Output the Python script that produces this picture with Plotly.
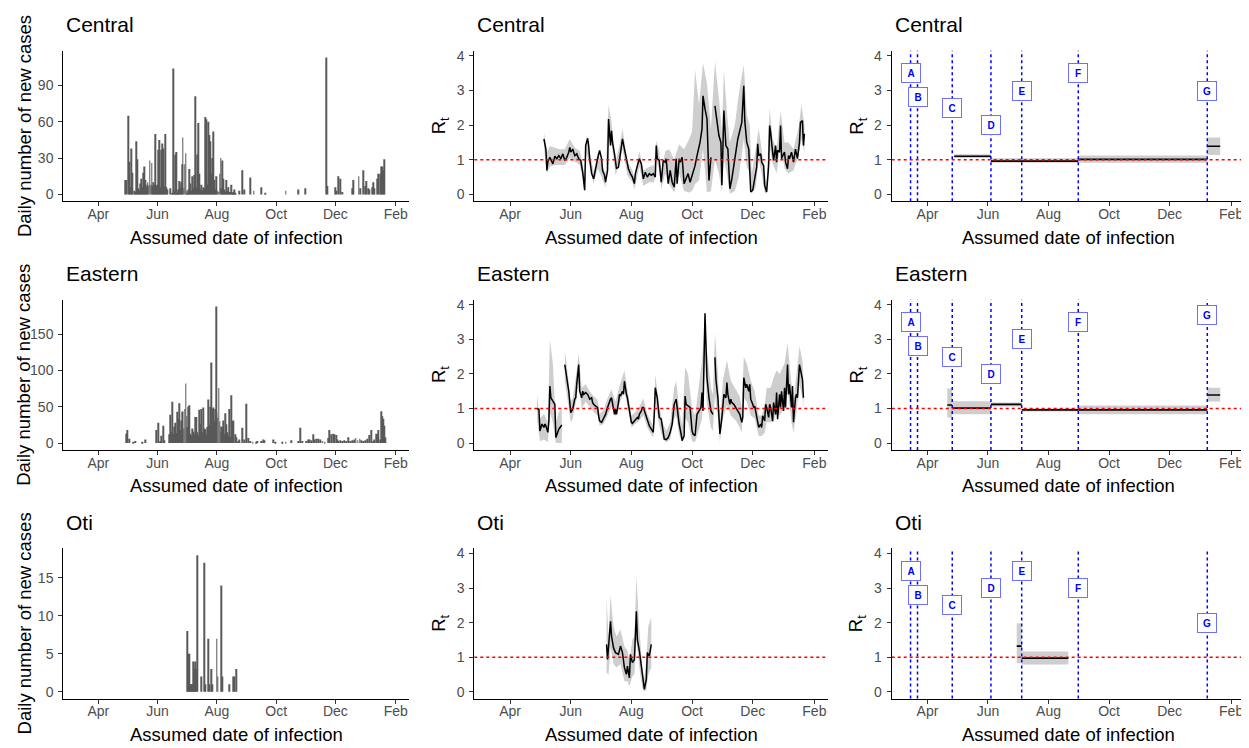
import pandas as pd
import plotly.graph_objects as go

FONT = "Liberation Sans, Arial, sans-serif"
ORIGIN = "2020-04-01"
X_RANGE = ["2020-02-25", "2021-02-15"]
TICK_DATES = ["2020-04-01", "2020-06-01", "2020-08-01", "2020-10-01", "2020-12-01", "2021-02-01"]
TICK_TEXT = ["Apr", "Jun", "Aug", "Oct", "Dec", "Feb"]

regions = ["Central", "Eastern", "Oti"]

# ---------------- daily new cases (day offsets from series start) ----------------
central_case_start = "2020-04-29"
central_case_day = [0, 1, 3, 4, 5, 6, 7, 9, 10, 11, 12, 13, 14, 15, 16, 17, 18, 19, 20, 21, 22, 23, 24, 25,
                    26, 27, 28, 29, 30, 31, 32, 33, 34, 35, 36, 37, 38, 39, 40, 41, 42, 43, 46, 48, 49, 50,
                    51, 52, 53, 54, 55, 56, 57, 58, 59, 60, 61, 62, 63, 64, 65, 66, 67, 68, 69, 70, 71, 72,
                    73, 74, 75, 76, 77, 78, 79, 80, 81, 82, 83, 84, 85, 86, 87, 88, 89, 90, 91, 92, 93, 94,
                    95, 96, 97, 98, 99, 100, 101, 102, 103, 104, 105, 106, 107, 108, 109, 110, 111, 112, 113,
                    117, 120, 122, 128, 132, 140, 144, 165, 178, 185, 207, 208, 216, 217, 219, 221, 223, 233,
                    234, 240, 242, 245, 247, 248, 250, 251, 254, 255, 256, 259, 260, 262, 263, 264, 265, 266]
central_case_n = [12, 12, 65, 27, 6, 38, 18, 3, 2, 44, 29, 5, 3, 9, 13, 6, 18, 23, 12, 6, 8, 10, 7, 28,
                  8, 26, 7, 10, 8, 50, 7, 8, 37, 45, 6, 37, 42, 38, 7, 50, 6, 4, 5, 1, 104, 3,
                  33, 35, 1, 4, 11, 6, 10, 25, 47, 5, 25, 34, 3, 1, 4, 21, 9, 3, 15, 5, 16, 81,
                  6, 33, 59, 17, 4, 8, 3, 6, 5, 64, 62, 8, 60, 49, 44, 17, 30, 52, 12, 4, 15, 2,
                  3, 2, 17, 30, 5, 28, 13, 4, 2, 12, 3, 6, 2, 2, 8, 1, 2, 4, 1,
                  3, 20, 4, 14, 3, 6, 1, 3, 4, 5, 113, 7, 6, 3, 15, 13, 2, 5,
                  12, 15, 5, 20, 7, 11, 5, 4, 6, 10, 5, 13, 17, 17, 23, 23, 20, 29]

eastern_case_start = "2020-04-28"
eastern_case_day = [2, 3, 5, 9, 11, 18, 21, 33, 35, 37, 38, 40, 41, 46, 47, 48, 49, 50, 51, 52, 53, 54, 55,
                    56, 57, 58, 59, 60, 61, 62, 63, 64, 65, 66, 67, 68, 69, 70, 71, 72, 73, 74, 75, 76, 77,
                    78, 79, 80, 81, 82, 83, 84, 85, 86, 87, 88, 89, 90, 91, 92, 93, 94, 95, 96, 97, 98, 99,
                    100, 101, 102, 103, 104, 105, 106, 107, 108, 109, 110, 111, 112, 114, 115, 117, 118, 121,
                    123, 125, 127, 129, 132, 136, 137, 141, 143, 144, 153, 155, 162, 166, 172, 179, 181, 183,
                    187, 189, 190, 192, 194, 195, 197, 199, 201, 202, 204, 206, 210, 211, 213, 215, 216, 218,
                    219, 220, 222, 224, 226, 228, 230, 232, 234, 236, 238, 240, 242, 244, 246, 248, 250, 252,
                    254, 256, 257, 259, 260, 261, 263, 264, 265, 266, 267, 268]
eastern_case_n = [13, 18, 6, 2, 3, 2, 5, 18, 28, 3, 10, 24, 4, 12, 39, 15, 57, 12, 23, 28, 14, 43, 33,
                  55, 18, 31, 43, 44, 20, 47, 82, 37, 22, 50, 52, 13, 10, 20, 16, 12, 36, 36, 15, 10, 46,
                  26, 47, 15, 49, 20, 19, 12, 22, 60, 25, 50, 111, 47, 49, 30, 47, 188, 42, 35, 76, 30, 15,
                  23, 22, 31, 12, 41, 26, 15, 10, 47, 8, 66, 30, 31, 12, 8, 3, 5, 21,
                  5, 54, 7, 3, 2, 2, 3, 3, 5, 4, 5, 2, 2, 2, 4, 3, 21, 3,
                  3, 5, 5, 4, 12, 5, 6, 6, 5, 3, 3, 2, 7, 18, 12, 13, 12, 11,
                  5, 3, 4, 3, 4, 3, 8, 3, 4, 5, 7, 4, 6, 4, 3, 4, 6, 11,
                  18, 3, 5, 13, 12, 18, 5, 44, 37, 33, 24, 8]

oti_case_start = "2020-07-02"
oti_case_day = [0, 1, 2, 3, 4, 5, 6, 7, 8, 9, 10, 14, 17, 18, 21, 22, 24, 25, 30, 31, 35, 36, 43, 47, 48, 50]
oti_case_n = [8, 5, 5, 1, 1, 1, 4, 3, 4, 3, 18, 2, 17, 1, 7, 1, 3, 1, 7, 2, 14, 2, 1, 2, 2, 3]

# ---------------- time-varying Rt (day offsets from 2020-04-01) ----------------
central_rt_day = [34, 36, 37, 38, 40, 43, 45, 47, 49, 51, 53, 55, 57, 59, 60, 61, 63, 65, 67, 69, 71, 73, 75,
                  76, 78, 79, 80, 82, 84, 86, 88, 90, 92, 93, 95, 96, 98, 99, 101, 102, 103, 105, 107, 109,
                  111, 113, 115, 117, 119, 121, 123, 125, 126, 128, 130, 132, 134, 136, 138, 140, 142, 144,
                  146, 147, 148, 150, 152, 154, 156, 157, 159, 161, 163, 165, 167, 168, 170, 171, 173, 175,
                  177, 179, 181, 183, 186, 188, 191, 193, 194, 196, 198, 200, 201, 202, 204, 206, 208, 210,
                  212, 213, 215, 216, 217, 219, 221, 223, 226, 229, 233, 235, 236, 238, 240, 242, 244, 246,
                  248, 249, 250, 252, 253, 255, 256, 258, 260, 261, 262, 264, 265, 267, 268, 269, 271, 272,
                  273, 275, 276, 277, 279, 280, 281, 283, 285, 287, 288, 289, 291, 292, 294, 295, 296]
central_rt = [1.60, 1.31, 0.69, 0.95, 1.07, 0.88, 1.10, 1.03, 1.12, 1.03, 1.17, 0.98, 1.07, 1.22, 1.36, 1.22,
              1.31, 1.12, 1.17, 1.03, 0.98, 0.64, 0.12, 1.41, 1.62, 1.41, 1.03, 0.60, 0.45, 0.79, 1.03, 1.27,
              1.03, 0.69, 0.55, 0.35, 0.69, 2.18, 1.41, 1.84, 1.50, 1.17, 0.74, 0.79, 1.17, 1.60, 1.31, 1.03,
              0.74, 0.60, 0.50, 0.31, 0.60, 0.83, 1.03, 0.88, 0.45, 0.64, 0.50, 0.60, 0.55, 0.60, 0.50, 1.41,
              1.03, 0.98, 0.35, 0.98, 0.93, 1.03, 0.31, 0.69, 0.35, 0.21, 1.03, 0.31, 1.03, 0.93, 1.07, 0.31,
              0.45, 0.60, 0.35, 0.55, 0.83, 1.12, 1.50, 1.89, 2.85, 2.47, 2.18, 0.40, 0.83, 1.07, None, 2.56,
              2.08, 1.70, 1.50, 0.26, 2.42, 1.79, 1.41, 1.31, 0.16, 0.45, 1.03, 1.60, 2.08, 3.14, 2.13, 1.50,
              1.31, 0.07, 0.12, 0.45, 0.79, 1.46, 1.12, 1.17, 0.93, 0.83, 0.26, 0.07, 0.83, 1.99, 1.79, 1.22,
              0.98, 1.41, 0.93, 1.27, 1.22, 1.99, 1.03, 1.17, 1.22, 0.93, 0.74, 1.12, 1.03, 1.22, 0.93, 1.31,
              1.17, 1.03, 1.50, 2.08, 2.13, 1.41, 1.75]
central_band_day = [34, 37, 40, 45, 50, 55, 60, 65, 70, 73, 75, 77, 80, 84, 88, 92, 96, 99, 102, 106, 110,
                    113, 118, 123, 125, 130, 134, 140, 145, 147, 150, 152, 156, 160, 165, 170, 175, 180, 183,
                    186, 190, 194, 198, 202, 206, 210, 213, 215, 218, 221, 226, 230, 235, 238, 241, 243, 247,
                    250, 253, 256, 258, 261, 264, 268, 272, 276, 280, 285, 290, 293, 296]
central_band_lo = [1.35, 0.60, 0.80, 0.85, 0.85, 0.85, 1.05, 0.95, 0.85, 0.45, 0.05, 1.20, 0.85, 0.30, 0.75,
                   0.50, 0.20, 1.75, 1.50, 0.55, 0.90, 1.30, 0.55, 0.35, 0.15, 0.80, 0.25, 0.35, 0.35, 1.00,
                   0.70, 0.15, 0.60, 0.30, 0.05, 0.60, 0.10, 0.05, 0.10, 0.30, 0.40, 1.30, 0.05, 0.10, 1.00,
                   0.60, 0.05, 1.00, 0.60, 0.02, 0.10, 0.50, 1.60, 0.80, 0.60, 0.02, 0.20, 1.00, 0.60, 0.05,
                   0.02, 1.40, 0.90, 0.60, 1.50, 0.75, 0.60, 0.70, 1.10, 1.60, 1.20]
central_band_hi = [1.80, 1.20, 1.40, 1.35, 1.30, 1.30, 1.60, 1.35, 1.25, 0.90, 0.40, 1.70, 1.25, 0.65, 1.20,
                   0.90, 0.60, 2.60, 2.10, 0.95, 1.40, 1.90, 0.95, 0.70, 0.50, 1.25, 0.70, 0.80, 0.85, 1.55,
                   1.25, 0.60, 1.25, 1.30, 1.00, 1.45, 1.30, 1.60, 1.80, 3.60, 2.60, 3.80, 3.20, 1.90, 3.85,
                   2.80, 1.80, 3.60, 2.40, 1.50, 2.00, 2.90, 3.75, 2.30, 2.00, 0.60, 1.30, 1.90, 1.30, 0.60,
                   0.30, 2.50, 1.60, 1.30, 2.40, 1.50, 1.50, 1.30, 1.90, 2.60, 2.00]

eastern_rt_day = [27, 29, 30, 31, 32, 34, 35, 36, 38, 39, 40, 41, 43, 45, 46, 47, 49, 52, 53, 55, 57, 58, 59,
                  61, 62, 63, 65, 66, 67, 69, 70, 72, 73, 74, 76, 78, 80, 82, 83, 84, 86, 88, 89, 90, 92, 94,
                  96, 98, 99, 101, 102, 103, 105, 106, 107, 109, 110, 111, 113, 114, 115, 117, 118, 119, 121,
                  122, 123, 125, 126, 128, 129, 130, 132, 133, 134, 136, 137, 138, 140, 142, 144, 145, 146,
                  148, 149, 150, 152, 154, 155, 157, 159, 161, 163, 165, 167, 168, 170, 172, 173, 175, 176,
                  177, 179, 181, 183, 184, 186, 188, 190, 192, 193, 194, 196, 197, 198, 200, 201, 202, 204,
                  205, 206, 207, 209, 210, 211, 213, 214, 215, 217, 218, 219, 221, 222, 223, 225, 227, 229,
                  231, 233, 234, 235, 237, 238, 240, 241, 242, 244, 245, 246, 248, 249, 250, 252, 253, 254,
                  256, 257, 258, 260, 261, 262, 264, 265, 267, 268, 269, 271, 272, 273, 275, 276, 277, 279,
                  280, 281, 283, 284, 285, 287, 288, 289, 291, 292, 294, 295]
eastern_rt = [1.00, 0.98, 0.35, 0.45, 0.55, 0.45, 0.55, 0.50, 0.31, 0.64, 1.65, 1.31, 1.22, 1.12, 0.16, 0.26,
              0.40, 0.52, None, 2.27, 1.89, 1.60, 1.50, 0.88, 0.93, 0.98, 1.27, 1.31, 1.70, 2.27, 1.50, 1.31,
              1.50, 1.41, 1.46, 1.41, 1.27, 1.31, 1.17, 1.12, 1.07, 1.03, 0.79, 0.64, 0.60, 0.74, 0.83, 1.03,
              1.12, 1.27, 1.31, 1.12, 0.83, 0.98, 0.83, 1.17, 1.41, 1.36, 1.50, 1.41, 1.79, 1.41, 1.31, 1.12,
              0.74, 0.60, 0.57, 0.64, 0.69, 0.74, 0.69, 0.83, 0.93, 1.03, 1.03, 0.83, 0.74, 0.64, 0.50, 0.40,
              0.31, 0.83, 1.60, 1.31, 0.93, 0.74, 0.69, 0.31, 0.12, 0.10, 0.16, 0.31, 0.55, 1.12, 1.27, 1.03,
              0.55, 0.26, 0.07, 0.21, 1.36, 1.12, 1.07, 1.03, 0.35, 0.26, 0.21, 0.83, 0.93, 1.03, 1.46, 0.93,
              3.76, 2.66, 1.89, 1.31, 1.07, 0.93, 0.83, None, 2.48, 1.84, 1.31, 0.83, 0.26, 0.74, 1.22, 1.41,
              1.31, 1.75, 1.41, 1.12, 1.27, 1.17, 1.12, 1.03, 0.93, 0.83, 0.60, 0.74, 1.89, 1.60, 1.70, 1.50,
              1.70, 1.27, 1.12, 1.03, 1.07, 0.74, 0.64, 0.45, 0.55, 0.45, 0.79, 0.64, 1.12, 1.03, 0.74, 1.12,
              1.03, 0.64, 1.17, 0.83, 1.46, 0.69, 1.41, 1.03, 1.50, 0.93, 1.60, 1.03, 2.27, 1.41, 1.70, 1.03,
              1.65, 0.60, 1.31, 1.41, 1.31, 2.27, 2.13, 1.84, 1.31]
eastern_band_day = [27, 30, 34, 38, 40, 43, 46, 49, 52, 53, 55, 58, 61, 63, 67, 69, 72, 76, 80, 84, 88, 90,
                    94, 98, 102, 106, 110, 115, 119, 122, 126, 130, 134, 138, 142, 144, 146, 150, 154, 157,
                    161, 165, 167, 170, 173, 176, 179, 183, 186, 190, 193, 196, 198, 202, 204, 206, 209, 211,
                    214, 218, 222, 227, 231, 233, 235, 238, 242, 246, 250, 253, 256, 258, 262, 265, 268, 271,
                    276, 279, 283, 285, 288, 291, 294, 295]
eastern_band_lo = [0.70, 0.05, 0.10, 0.02, 0.90, 0.60, 0.00, 0.00, 0.00, None, 1.80, 1.20, 0.60, 0.70, 1.30,
                   1.80, 1.00, 1.20, 1.05, 0.90, 0.80, 0.50, 0.55, 0.80, 1.05, 0.75, 1.15, 1.50, 0.90, 0.45,
                   0.55, 0.65, 0.80, 0.45, 0.25, 0.15, 1.20, 0.50, 0.10, 0.02, 0.10, 0.70, 0.80, 0.25, 0.02,
                   0.70, 0.60, 0.05, 0.02, 0.40, 0.70, 2.30, 1.10, 0.45, 0.35, 1.40, 0.70, 0.02, 0.70, 1.10,
                   0.80, 0.65, 0.45, 0.30, 1.30, 1.20, 0.80, 0.70, 0.20, 0.20, 0.30, 0.60, 0.60, 0.60, 0.90,
                   0.80, 1.00, 1.60, 0.60, 0.30, 0.90, 1.70, 1.30, 1.00]
eastern_band_hi = [1.40, 0.70, 0.85, 0.60, 3.00, 2.30, 0.60, 0.90, 1.00, None, 2.70, 2.00, 1.20, 1.30, 2.10,
                   2.60, 1.60, 1.70, 1.50, 1.35, 1.25, 0.85, 0.95, 1.30, 1.55, 1.20, 1.65, 2.10, 1.35, 0.80,
                   0.90, 1.05, 1.30, 0.85, 0.60, 0.50, 2.00, 1.05, 0.55, 0.35, 0.60, 1.60, 1.80, 1.00, 0.50,
                   2.20, 2.00, 1.00, 0.80, 1.70, 2.40, 3.60, 2.70, 1.60, 1.40, 3.20, 2.00, 0.60, 1.80, 2.40,
                   1.80, 1.55, 1.35, 1.00, 2.50, 2.30, 1.80, 1.50, 0.80, 0.80, 1.10, 1.60, 1.60, 1.90, 2.10,
                   2.00, 2.30, 2.90, 1.70, 1.20, 2.00, 2.80, 2.40, 1.80]

oti_rt_day = [97, 98, 101, 102, 104, 106, 109, 111, 113, 115, 117, 118, 120, 121, 123, 125, 127, 128, 130,
              132, 134, 135, 137, 138, 140, 142]
oti_rt = [1.37, 0.93, 2.04, 1.61, 1.27, 1.13, 1.08, 1.32, 1.13, 0.69, 0.50, 0.74, 0.40, 1.08, 0.84, 0.93,
          2.33, 1.51, 1.18, 0.74, 0.26, 0.07, 0.36, 1.13, 1.03, 1.37]
oti_band_day = [97, 99, 101, 104, 107, 111, 115, 118, 120, 123, 125, 127, 130, 133, 135, 137, 139, 142]
oti_band_lo = [0.55, 0.50, 1.30, 0.80, 0.70, 0.80, 0.30, 0.30, 0.15, 0.45, 0.50, 1.50, 0.70, 0.10, 0.00,
               0.05, 0.50, 0.70]
oti_band_hi = [2.75, 1.60, 2.80, 1.90, 1.60, 1.80, 1.30, 1.20, 0.90, 1.50, 1.60, 3.35, 1.80, 0.70, 0.40,
               0.90, 1.90, 2.15]

# ---------------- piecewise Rt between interventions ----------------
intervention_names = ["A", "B", "C", "D", "E", "F", "G"]
intervention_dates = ["2020-03-15", "2020-03-22", "2020-04-26", "2020-06-04", "2020-07-05",
                      "2020-08-31", "2021-01-08"]
central_label_y = [3.5, 2.8, 2.5, 2.0, 3.0, 3.5, 3.0]
eastern_label_y = [3.5, 2.8, 2.5, 2.0, 3.0, 3.5, 3.7]
oti_label_y = [3.5, 2.8, 2.5, 3.0, 3.5, 3.0, 2.0]

central_seg_start = ["2020-04-28", "2020-06-04", "2020-08-31", "2021-01-08"]
central_seg_end = ["2020-06-04", "2020-08-31", "2021-01-08", "2021-01-21"]
central_seg_mean = [1.10, 0.96, 1.01, 1.39]
central_seg_lo = [1.05, 0.91, 0.91, 1.14]
central_seg_hi = [1.16, 1.04, 1.12, 1.64]

eastern_seg_start = ["2020-04-21", "2020-04-26", "2020-06-04", "2020-07-05", "2020-08-31", "2021-01-08"]
eastern_seg_end = ["2020-04-26", "2020-06-04", "2020-07-05", "2020-08-31", "2021-01-08", "2021-01-21"]
eastern_seg_mean = [1.10, 1.01, 1.12, 0.96, 0.96, 1.39]
eastern_seg_lo = [0.74, 0.83, 1.06, 0.91, 0.83, 1.20]
eastern_seg_hi = [1.58, 1.21, 1.17, 1.01, 1.09, 1.60]

oti_seg_start = ["2020-06-30", "2020-07-05"]
oti_seg_end = ["2020-07-05", "2020-08-21"]
oti_seg_mean = [1.32, 0.97]
oti_seg_lo = [0.82, 0.79]
oti_seg_hi = [1.98, 1.16]

# ---------------- helpers ----------------
def to_dates(days, origin=ORIGIN):
    base = pd.Timestamp(origin)
    return [base + pd.Timedelta(days=d) for d in days]


def runs(days, lo, hi):
    out, cur = [], []
    for d, a, b in zip(days, lo, hi):
        if a is None or b is None:
            if cur:
                out.append(cur)
            cur = []
        else:
            cur.append((d, a, b))
    if cur:
        out.append(cur)
    return out


cases = {
    "Central": (central_case_start, central_case_day, central_case_n),
    "Eastern": (eastern_case_start, eastern_case_day, eastern_case_n),
    "Oti": (oti_case_start, oti_case_day, oti_case_n),
}
case_ranges = {"Central": ([-5.65, 118.65], [0, 30, 60, 90]),
               "Eastern": ([-9.4, 197.4], [0, 50, 100, 150]),
               "Oti": ([-0.9, 18.9], [0, 5, 10, 15])}
rt = {
    "Central": (central_rt_day, central_rt, central_band_day, central_band_lo, central_band_hi),
    "Eastern": (eastern_rt_day, eastern_rt, eastern_band_day, eastern_band_lo, eastern_band_hi),
    "Oti": (oti_rt_day, oti_rt, oti_band_day, oti_band_lo, oti_band_hi),
}
segs = {
    "Central": (central_seg_start, central_seg_end, central_seg_mean, central_seg_lo, central_seg_hi, central_label_y),
    "Eastern": (eastern_seg_start, eastern_seg_end, eastern_seg_mean, eastern_seg_lo, eastern_seg_hi, eastern_label_y),
    "Oti": (oti_seg_start, oti_seg_end, oti_seg_mean, oti_seg_lo, oti_seg_hi, oti_label_y),
}

# Layout in window pixels; the page body has an 8px margin, so the figure is offset.
OFF = 8
W, H = 1249 - OFF, 748 - OFF
COL_X = [(63.3, 409.3), (474.3, 828.3), (891.7, 1245.0)]
ROW_Y = [(48.0, 199.3), (298.3, 449.3), (548.3, 699.3)]
BAND = "rgb(206,206,206)"


def px(X):
    return (X - OFF) / W


def py(Y):
    return 1 - (Y - OFF) / H


fig = go.Figure()
layout = dict(width=W, height=H, margin=dict(l=0, r=0, t=0, b=0), autosize=False,
              paper_bgcolor="white", plot_bgcolor="white", showlegend=False,
              font=dict(family=FONT, color="black"))
annotations, shapes = [], []

for r, reg in enumerate(regions):
    for c in range(3):
        i = r * 3 + c + 1
        xa, ya = f"x{i}", f"y{i}"
        x0, x1 = COL_X[c]
        y0, y1 = ROW_Y[r]
        axis_common = dict(showline=True, linecolor="black", linewidth=1.1, ticks="outside",
                           ticklen=4, tickwidth=1.1, tickcolor="#333333", showgrid=False, zeroline=False,
                           tickfont=dict(family=FONT, size=14, color="#4d4d4d"))
        layout[f"xaxis{i}"] = dict(domain=[px(x0), px(x1)], anchor=ya, type="date", range=X_RANGE,
                                   tickvals=TICK_DATES, ticktext=TICK_TEXT, ticklabelstandoff=-4,
                                   **axis_common)
        if c == 0:
            yr, yt = case_ranges[reg]
        else:
            yr, yt = [-0.2, 4.15], [0, 1, 2, 3, 4]
        layout[f"yaxis{i}"] = dict(domain=[py(y1), py(y0)], anchor=xa, range=yr, tickvals=yt,
                                   ticklabelstandoff=2, **axis_common)

        # panel title
        annotations.append(dict(text=reg, xref="paper", yref="paper", x=px(x0 + 1),
                                y=py(y0 - 26.5), xanchor="left", yanchor="middle",
                                showarrow=False, font=dict(family=FONT, size=21, color="black")))
        # x axis title
        annotations.append(dict(text="Assumed date of infection", xref="paper", yref="paper",
                                x=px((x0 + x1) / 2), y=py(y1 + 36), xanchor="center",
                                yanchor="middle", showarrow=False,
                                font=dict(family=FONT, size=18.5, color="black")))
        # y axis title
        ytxt = "Daily number of new cases" if c == 0 else "R<sub>t</sub>"
        yx = 24 if c == 0 else x0 - 34
        annotations.append(dict(text=ytxt, xref="paper", yref="paper", x=px(yx),
                                y=py((y0 + y1) / 2), xanchor="center", yanchor="middle",
                                textangle=-90, showarrow=False,
                                font=dict(family=FONT, size=18.5, color="black")))

        if c == 0:
            start, days, n = cases[reg]
            fig.add_trace(go.Bar(x=to_dates(days, start), y=n, xaxis=xa, yaxis=ya,
                                 width=0.9 * 86400000, marker=dict(color="#595959", line=dict(width=0))))
        elif c == 1:
            rdays, rvals, bdays, blo, bhi = rt[reg]
            for run in runs(bdays, blo, bhi):
                d = [p[0] for p in run]
                lo = [p[1] for p in run]
                hi = [p[2] for p in run]
                dd = to_dates(d)
                fig.add_trace(go.Scatter(x=dd + dd[::-1], y=hi + lo[::-1], xaxis=xa, yaxis=ya,
                                         fill="toself", fillcolor=BAND, mode="none", hoverinfo="skip"))
            fig.add_trace(go.Scatter(x=to_dates(rdays), y=rvals, xaxis=xa, yaxis=ya, mode="lines",
                                     line=dict(color="black", width=1.5), connectgaps=False))
        else:
            s, e, m, lo, hi, laby = segs[reg]
            for a, b, mm, l, h in zip(s, e, m, lo, hi):
                fig.add_trace(go.Scatter(x=[a, b, b, a, a], y=[l, l, h, h, l], xaxis=xa, yaxis=ya,
                                         fill="toself", fillcolor=BAND, mode="none", hoverinfo="skip"))
                fig.add_trace(go.Scatter(x=[a, b], y=[mm, mm], xaxis=xa, yaxis=ya, mode="lines",
                                         line=dict(color="black", width=1.6)))
            for nm, dt, ly in zip(intervention_names, intervention_dates, laby):
                shapes.append(dict(type="line", xref=xa, yref=f"{ya} domain", x0=dt, x1=dt, y0=0, y1=1,
                                   line=dict(color="blue", width=1.5, dash="dot"), layer="above"))
                annotations.append(dict(text=f"<b>{nm}</b>", xref=xa, yref=ya, x=dt, y=ly,
                                        showarrow=False, bgcolor="white", bordercolor="#7070ff",
                                        borderwidth=1, borderpad=2, width=14, height=14,
                                        font=dict(family=FONT, size=10, color="blue")))
        if c > 0:
            shapes.append(dict(type="line", xref=f"{xa} domain", yref=ya, x0=0, x1=1, y0=1, y1=1,
                               line=dict(color="red", width=1.5, dash="dot"), layer="above"))

layout["annotations"] = annotations
layout["shapes"] = shapes
fig.update_layout(**layout)
fig.write_html("out.html")
